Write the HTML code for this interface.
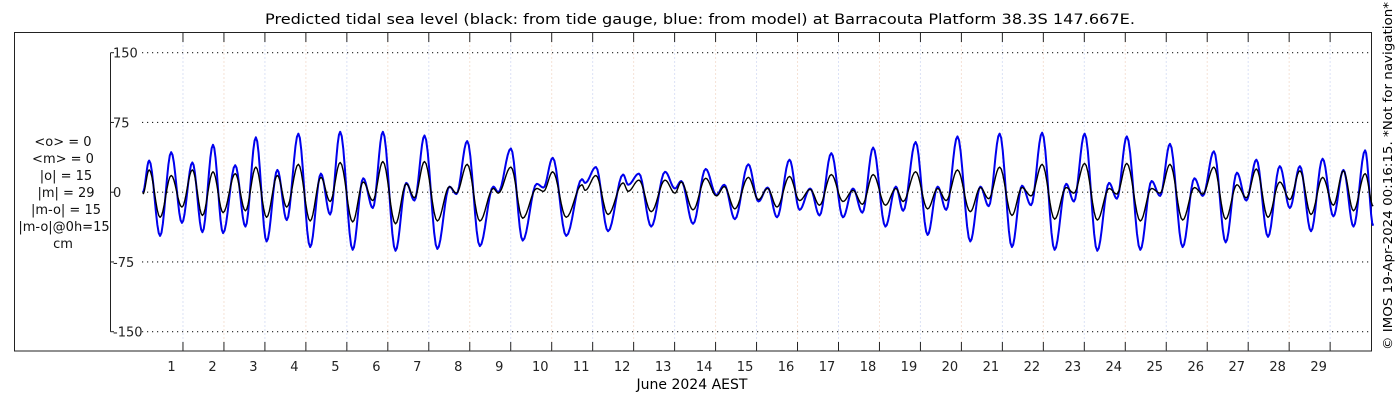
<!DOCTYPE html>
<html><head><meta charset="utf-8"><style>
html,body{margin:0;padding:0;background:#fff;width:1400px;height:400px;overflow:hidden}
svg{display:block;font-family:"DejaVu Sans","Liberation Sans",sans-serif}
</style></head><body>
<svg id="chart" width="1400" height="400" viewBox="0 0 1400 400">
<text x="700" y="24" text-anchor="middle" font-size="14" textLength="870" lengthAdjust="spacingAndGlyphs">Predicted tidal sea level (black: from tide gauge, blue: from model) at Barracouta Platform 38.3S 147.667E.</text>
<rect x="14.5" y="32.5" width="1357" height="318.5" fill="none" stroke="#222" stroke-width="1"/>
<g id="grid"></g>
<g id="yaxis"></g>
<g id="xaxis"></g>
<g id="series"></g>
<g font-size="13" text-anchor="middle" fill="#111">
<text x="63" y="146">&lt;o&gt; = 0</text>
<text x="63" y="163">&lt;m&gt; = 0</text>
<text x="66" y="180">|o| = 15</text>
<text x="66" y="197">|m| = 29</text>
<text x="66" y="214">|m-o| = 15</text>
<text x="64" y="231">|m-o|@0h=15</text>
<text x="63" y="248">cm</text>
</g>
<text x="692" y="389" text-anchor="middle" font-size="14">June 2024 AEST</text>
<text transform="translate(1392,350) rotate(-90)" font-size="12.5" textLength="348" lengthAdjust="spacingAndGlyphs">© IMOS 19-Apr-2024 00:16:15. *Not for navigation*</text>
</svg>
<script>
const yTicks = [150, 75, 0, -75, -150];
const dayLabels = [1,2,3,4,5,6,7,8,9,10,11,12,13,14,15,16,17,18,19,20,21,22,23,24,25,26,27,28,29];
const extremaHours = [0.5,4.2,10.6,17.1,23.4,29.5,35.4,41.6,47.5,54.6,60.6,66.7,73.0,79.3,84.8,91.6,98.5,104.8,110.2,116.1,123.4,129.6,135.2,141.1,148.5,154.8,159.6,165.5,173.0,180.1,184.2,190.5,197.9,205.8,208.7,216.1,223.0,231.2,235.2,240.6,248.5,257.7,259.6,265.9,273.0,281.8,284.8,291.1,298.3,306.4,312.2,315.9,322.8,330.2,336.5,341.1,347.3,355.2,361.1,366.5,372.0,379.3,385.2,391.4,396.9,403.8,410.6,416.5,422.0,428.3,435.5,441.6,445.9,453.2,460.2,466.1,471.1,477.7,485.2,491.1,496.0,502.4,509.6,515.5,520.8,527.3,534.6,541.4,545.9,552.2,559.6,566.5,571.1,576.9,584.8,591.4,596.4,602.2,609.6,616.5,621.4,627.9,634.8,641.4,646.9,652.8,659.6,666.5,672.4,678.3,684.8,691.6,697.9,703.8,709.7,716.5,721.2];
const modelValues = [0,34,-47,43,-33,32,-43,51,-44,29,-37,59,-53,24,-30,63,-59,20,-24,65,-62,15,-17,65,-63,10,-9,61,-61,6,-2,55,-58,6,0,47,-52,9,5,37,-47,14,10,27,-42,19,8,20,-37,22,4,12,-34,25,-3,8,-29,30,-10,5,-27,35,-19,4,-25,42,-27,4,-22,48,-37,6,-20,54,-46,6,-19,60,-53,6,-15,63,-59,7,-14,64,-62,9,-10,63,-63,10,-7,60,-62,12,-4,52,-59,15,-4,44,-54,21,-9,35,-48,28,-17,28,-42,36,-26,24,-37,45,-36];
const gaugeValues = [-2,24,-27,18,-16,24,-25,22,-22,20,-20,27,-27,18,-16,30,-31,16,-10,32,-32,11,-9,33,-34,9,-6,33,-31,6,-1,30,-31,4,-1,27,-28,4,1,22,-27,8,2,18,-24,10,1,13,-21,13,-1,11,-19,15,-4,6,-18,16,-8,4,-16,17,-9,3,-14,19,-10,2,-13,19,-14,4,-10,22,-18,4,-9,24,-21,5,-7,27,-25,5,-4,30,-29,5,-1,31,-30,4,-2,31,-31,4,-1,30,-30,5,-2,27,-29,8,-6,25,-27,11,-8,23,-24,16,-14,23,-20,20,-15];

const NS = 'http://www.w3.org/2000/svg';
const X0 = 142, DAYW = 40.97, Y0 = 192.2, YPER = 69.75/75;
function xScale(hours){ return X0 + hours/24*DAYW; }
function yScale(v){ return Y0 - v*YPER; }
function mk(tag, attrs, parent){ const e=document.createElementNS(NS,tag); for(const k in attrs) e.setAttribute(k,attrs[k]); parent.appendChild(e); return e; }

const grid = document.getElementById('grid');
const yaxis = document.getElementById('yaxis');
const xaxis = document.getElementById('xaxis');
const series = document.getElementById('series');

for (let d=0; d<=30; d++){
  const x = xScale(d*24);
  if (d>0 && d<30){
    const l = mk('line',{x1:x,x2:x,y1:33,y2:351,stroke:(d%2? '#dce2f6':'#f5e2d6'),'stroke-width':1,'stroke-dasharray':'2,2'},grid);
    
    
    const t1 = mk('line',{x1:x,x2:x,y1:33,y2:42,stroke:'#222','stroke-width':1},xaxis);
    
    
    const t2 = mk('line',{x1:x,x2:x,y1:342,y2:351,stroke:'#222','stroke-width':1},xaxis);
    
    
  }
}
dayLabels.forEach(d=>{
  const t = mk('text',{x:xScale((d-1)*24)+29.5,y:371,'text-anchor':'middle','font-size':13,fill:'#222'},xaxis);
  t.textContent = d;
  
  
});

const ya = mk('line',{x1:110.5,x2:110.5,y1:yScale(150),y2:yScale(-150),stroke:'#222','stroke-width':1},yaxis);


yTicks.forEach(v=>{
  const y = yScale(v);
  const g = mk('line',{x1:142,x2:1370,y1:y,y2:y,stroke:'#222','stroke-width':1.2,'stroke-dasharray':'1.2,3.8'},grid);
  
  
  const tk = mk('line',{x1:110.5,x2:114,y1:y,y2:y,stroke:'#222'},yaxis);
  
  
  const t = mk('text',{x:113,y:y+5,'font-size':13,fill:'#222'},yaxis);
  t.textContent = v;
  
  
});

function buildPath(times, vals){
  let d = '';
  for (let i=0;i<times.length-1;i++){
    const t0=times[i], t1=times[i+1], v0=vals[i], v1=vals[i+1];
    const n=8;
    for (let k=(i===0?0:1);k<=n;k++){
      const f=k/n, t=t0+(t1-t0)*f, v=v0+(v1-v0)*(1-Math.cos(Math.PI*f))/2;
      d += (d?'L':'M') + xScale(t).toFixed(2)+','+yScale(v).toFixed(2);
    }
  }
  return d;
}
const pm = mk('path',{d:buildPath(extremaHours, modelValues),fill:'none',stroke:'#0000ee','stroke-width':2,'stroke-linejoin':'round'},series);


const pg = mk('path',{d:buildPath(extremaHours, gaugeValues),fill:'none',stroke:'#000','stroke-width':1.4,'stroke-linejoin':'round'},series);


</script>
</body></html>
